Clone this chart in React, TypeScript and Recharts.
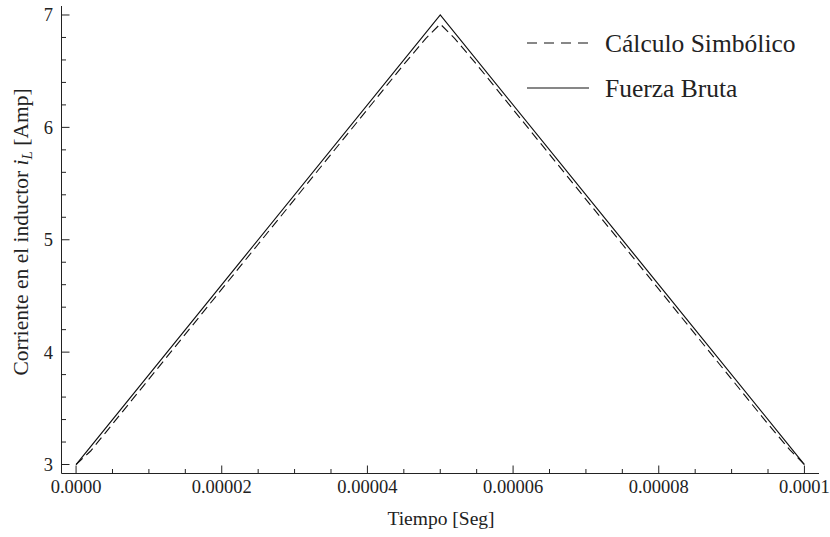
import { LineChart, Line, XAxis, YAxis } from "recharts";

// tiempo (s) y corriente (A)
const BRUTE_T = [0, 0.00005, 0.0001];
const BRUTE_I = [3, 7, 3];

const SYMB_T = [
  0, 0.000002, 0.000005, 0.00001, 0.000015, 0.00002, 0.000025, 0.00003,
  0.000035, 0.00004, 0.000045, 0.000048, 0.00005, 0.000052, 0.000055,
  0.00006, 0.000065, 0.00007, 0.000075, 0.00008, 0.000085, 0.00009,
  0.000095, 0.000098, 0.0001,
];
const SYMB_I = [
  3.0, 3.12, 3.36, 3.76, 4.16, 4.56, 4.96, 5.36, 5.76, 6.16, 6.56,
  6.79, 6.92, 6.79, 6.56, 6.16, 5.76, 5.36, 4.96, 4.56, 4.16, 3.76, 3.36,
  3.13, 3.0,
];

const X_MAJOR = [0, 0.00002, 0.00004, 0.00006, 0.00008, 0.0001];
const X_LABELS = ["0.0000", "0.00002", "0.00004", "0.00006", "0.00008", "0.0001"];
const X_MINOR = [
  0, 0.000005, 0.00001, 0.000015, 0.00002, 0.000025, 0.00003, 0.000035,
  0.00004, 0.000045, 0.00005, 0.000055, 0.00006, 0.000065, 0.00007,
  0.000075, 0.00008, 0.000085, 0.00009, 0.000095, 0.0001,
];
const Y_MAJOR = [3, 4, 5, 6, 7];
const Y_LABELS = ["3", "4", "5", "6", "7"];
const Y_MINOR = [
  3, 3.2, 3.4, 3.6, 3.8, 4, 4.2, 4.4, 4.6, 4.8, 5, 5.2, 5.4, 5.6, 5.8, 6,
  6.2, 6.4, 6.6, 6.8, 7,
];

const brute = BRUTE_T.map((t, i) => ({ t, i: BRUTE_I[i] }));
const symb = SYMB_T.map((t, i) => ({ t, i: SYMB_I[i] }));

const SERIF = { fontFamily: "'Liberation Serif', 'DejaVu Serif', serif" };
const INK = "#222";
const MAJOR_LEN = 8;
const MINOR_LEN = 4.5;

function labelFor(v: number, majors: number[], labels: string[]) {
  const k = majors.findIndex((m) => Math.abs(m - v) < 1e-9);
  return k >= 0 ? labels[k] : null;
}

function BottomTick({ x, y, payload }: any) {
  const label = labelFor(payload.value, X_MAJOR, X_LABELS);
  const len = label ? MAJOR_LEN : MINOR_LEN;
  return (
    <g>
      <line x1={x} y1={y} x2={x} y2={y - len} stroke={INK} strokeWidth={1} />
      {label && (
        <text x={x} y={y + 19.5} textAnchor="middle" style={SERIF} fontSize={18.5} fill="#222">
          {label}
        </text>
      )}
    </g>
  );
}

function TopTick({ x, y, payload }: any) {
  const len = labelFor(payload.value, X_MAJOR, X_LABELS) ? MAJOR_LEN : MINOR_LEN;
  return <line x1={x} y1={y} x2={x} y2={y + len} stroke={INK} strokeWidth={1} />;
}

function LeftTick({ x, y, payload }: any) {
  const label = labelFor(payload.value, Y_MAJOR, Y_LABELS);
  const len = label ? MAJOR_LEN : MINOR_LEN;
  return (
    <g>
      <line x1={x} y1={y} x2={x + len} y2={y} stroke={INK} strokeWidth={1} />
      {label && (
        <text x={x - 8.5} y={y} dy="0.35em" textAnchor="end" style={SERIF} fontSize={18.5} fill="#222">
          {label}
        </text>
      )}
    </g>
  );
}

function RightTick({ x, y, payload }: any) {
  const len = labelFor(payload.value, Y_MAJOR, Y_LABELS) ? MAJOR_LEN : MINOR_LEN;
  return <line x1={x} y1={y} x2={x - len} y2={y} stroke={INK} strokeWidth={1} />;
}

const X_DOMAIN = [-0.000002, 0.000102];
const Y_DOMAIN = [2.92, 7.08];

export default function App() {
  return (
    <div style={{ position: "absolute", left: 0, top: 0, width: 830, height: 537, background: "#fff" }}>
      <LineChart width={830} height={537} margin={{ top: 6, right: 11, left: 0, bottom: 0 }}>
        <XAxis
          type="number"
          dataKey="t"
          domain={X_DOMAIN}
          allowDataOverflow
          ticks={X_MINOR}
          interval={0}
          tickSize={0}
          tickMargin={0}
          tick={<BottomTick />}
          axisLine={{ stroke: INK, strokeWidth: 1 }}
          height={63.5}
        />
        <XAxis
          xAxisId="top"
          orientation="top"
          type="number"
          dataKey="t"
          domain={X_DOMAIN}
          allowDataOverflow
          ticks={X_MINOR}
          interval={0}
          tickSize={0}
          tickMargin={0}
          tick={<TopTick />}
          axisLine={{ stroke: INK, strokeWidth: 1 }}
          height={0}
        />
        <YAxis
          type="number"
          domain={Y_DOMAIN}
          allowDataOverflow
          ticks={Y_MINOR}
          interval={0}
          tickSize={0}
          tickMargin={0}
          tick={<LeftTick />}
          axisLine={{ stroke: INK, strokeWidth: 1 }}
          width={61.5}
        />
        <YAxis
          yAxisId="right"
          orientation="right"
          type="number"
          domain={Y_DOMAIN}
          allowDataOverflow
          ticks={Y_MINOR}
          interval={0}
          tickSize={0}
          tickMargin={0}
          tick={<RightTick />}
          axisLine={{ stroke: "#555", strokeWidth: 1 }}
          width={0}
        />
        <Line
          data={symb}
          dataKey="i"
          type="linear"
          stroke="#111"
          strokeWidth={1.1}
          strokeDasharray="9 5"
          dot={false}
          isAnimationActive={false}
        />
        <Line
          data={brute}
          dataKey="i"
          type="linear"
          stroke="#111"
          strokeWidth={1.2}
          dot={false}
          isAnimationActive={false}
        />
      </LineChart>
      <svg
        width={830}
        height={537}
        style={{ position: "absolute", left: 0, top: 0, pointerEvents: "none" }}
      >
        <line x1={527} y1={43} x2={589} y2={43} stroke="#111" strokeWidth={1.2} strokeDasharray="10 7" />
        <text x={605} y={52} style={SERIF} fontSize={25.5} fill="#222">
          Cálculo Simbólico
        </text>
        <line x1={527} y1={88} x2={589} y2={88} stroke="#111" strokeWidth={1.2} />
        <text x={605} y={97} style={SERIF} fontSize={25.5} fill="#222">
          Fuerza Bruta
        </text>
        <text x={441} y={525} textAnchor="middle" style={SERIF} fontSize={19.5} fill="#222">
          Tiempo [Seg]
        </text>
        <text
          x={28}
          y={232}
          transform="rotate(-90 28 232)"
          textAnchor="middle"
          style={SERIF}
          fontSize={21.5}
          fill="#222"
        >
          Corriente en el inductor <tspan fontStyle="italic">i</tspan>
          <tspan fontStyle="italic" fontSize={15} dy={4}>L</tspan>
          <tspan dy={-4}> [Amp]</tspan>
        </text>
      </svg>
    </div>
  );
}
